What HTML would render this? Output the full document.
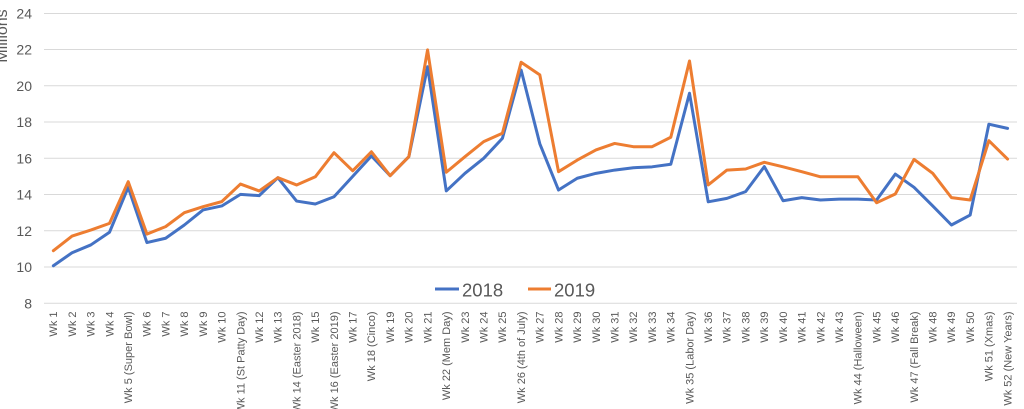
<!DOCTYPE html>
<html><head><meta charset="utf-8"><style>
html,body{margin:0;padding:0;background:#fff;}
svg{display:block;}
text{font-family:"Liberation Sans",Arial,sans-serif;fill:#595959;}
</style></head><body>
<svg width="1024" height="409" viewBox="0 0 1024 409" xmlns="http://www.w3.org/2000/svg">
<rect width="1024" height="409" fill="#fff"/>
<g stroke="#d9d9d9" stroke-width="1">
<line x1="44" x2="1017" y1="13.5" y2="13.5"/>
<line x1="44" x2="1017" y1="49.5" y2="49.5"/>
<line x1="44" x2="1017" y1="85.8" y2="85.8"/>
<line x1="44" x2="1017" y1="122" y2="122"/>
<line x1="44" x2="1017" y1="158.3" y2="158.3"/>
<line x1="44" x2="1017" y1="194.5" y2="194.5"/>
<line x1="44" x2="1017" y1="230.8" y2="230.8"/>
<line x1="44" x2="1017" y1="267" y2="267"/>
<line x1="44" x2="1017" y1="303.3" y2="303.3"/>
</g>
<g font-size="14" text-anchor="end">
<text x="32" y="18.3">24</text>
<text x="32" y="54.5">22</text>
<text x="32" y="90.8">20</text>
<text x="32" y="127">18</text>
<text x="32" y="163.3">16</text>
<text x="32" y="199.5">14</text>
<text x="32" y="235.8">12</text>
<text x="32" y="272">10</text>
<text x="32" y="308.3">8</text>
</g>
<text font-size="16" text-anchor="middle" transform="translate(7,36) rotate(-90)">Millions</text>

<polyline fill="none" stroke="#4472C4" stroke-width="3" stroke-linejoin="round" stroke-linecap="round" points="53.36,265.78 72.07,252.73 90.78,244.94 109.49,232.25 128.20,187.3 146.91,242.58 165.62,238.23 184.33,225.0 203.04,209.96 221.75,205.97 240.46,194.37 259.17,195.64 277.88,177.69 296.59,201.07 315.30,203.97 334.01,196.72 352.72,176.42 371.43,155.94 390.14,175.7 408.85,156.67 427.56,66.77 446.27,190.92 464.98,173.34 483.69,158.3 502.40,138.36 521.11,70.03 539.82,143.8 558.53,190.02 577.24,178.24 595.95,173.34 614.66,170.08 633.37,167.73 652.08,166.82 670.79,164.28 689.50,93.23 708.21,201.8 726.92,198.36 745.63,191.65 764.34,166.64 783.05,200.71 801.76,197.63 820.47,199.99 839.18,199.08 857.89,199.08 876.60,199.99 895.31,174.07 914.02,187.3 932.73,205.97 951.44,225.0 970.15,215.03 988.86,124.22 1007.57,128.39"/>
<polyline fill="none" stroke="#ED7D31" stroke-width="3" stroke-linejoin="round" stroke-linecap="round" points="53.36,250.74 72.07,236.06 90.78,230.07 109.49,223.37 128.20,181.68 146.91,234.06 165.62,226.63 184.33,212.67 203.04,206.69 221.75,201.62 240.46,184.04 259.17,190.92 277.88,177.69 296.59,184.94 315.30,176.79 334.01,152.68 352.72,170.81 371.43,151.77 390.14,175.7 408.85,156.67 427.56,49.91 446.27,172.26 464.98,156.67 483.69,141.62 502.40,133.29 521.11,62.24 539.82,74.92 558.53,171.71 577.24,160.11 595.95,149.96 614.66,143.44 633.37,146.7 652.08,146.7 670.79,137.27 689.50,60.97 708.21,184.94 726.92,170.08 745.63,168.99 764.34,162.29 783.05,166.82 801.76,171.71 820.47,176.79 839.18,176.79 857.89,176.79 876.60,202.71 895.31,194.01 914.02,159.39 932.73,173.34 951.44,197.63 970.15,199.99 988.86,140.72 1007.57,159.02"/>

<line x1="435" x2="459" y1="289" y2="289" stroke="#4472C4" stroke-width="3"/>
<text x="462" y="296.7" font-size="18.5">2018</text>
<line x1="528" x2="551" y1="289" y2="289" stroke="#ED7D31" stroke-width="3"/>
<text x="554" y="296.7" font-size="18.5">2019</text>

<g font-size="11" text-anchor="end">
<text transform="translate(57.2,311.5) rotate(-90)">Wk 1</text>
<text transform="translate(75.9,311.5) rotate(-90)">Wk 2</text>
<text transform="translate(94.6,311.5) rotate(-90)">Wk 3</text>
<text transform="translate(113.3,311.5) rotate(-90)">Wk 4</text>
<text transform="translate(132.0,311.5) rotate(-90)">Wk 5 (Super Bowl)</text>
<text transform="translate(150.7,311.5) rotate(-90)">Wk 6</text>
<text transform="translate(169.4,311.5) rotate(-90)">Wk 7</text>
<text transform="translate(188.1,311.5) rotate(-90)">Wk 8</text>
<text transform="translate(206.8,311.5) rotate(-90)">Wk 9</text>
<text transform="translate(225.6,311.5) rotate(-90)">Wk 10</text>
<text transform="translate(244.3,311.5) rotate(-90)">Wk 11 (St Patty Day)</text>
<text transform="translate(263.0,311.5) rotate(-90)">Wk 12</text>
<text transform="translate(281.7,311.5) rotate(-90)">Wk 13</text>
<text transform="translate(300.4,311.5) rotate(-90)">Wk 14 (Easter 2018)</text>
<text transform="translate(319.1,311.5) rotate(-90)">Wk 15</text>
<text transform="translate(337.8,311.5) rotate(-90)">Wk 16 (Easter 2019)</text>
<text transform="translate(356.5,311.5) rotate(-90)">Wk 17</text>
<text transform="translate(375.2,311.5) rotate(-90)">Wk 18 (Cinco)</text>
<text transform="translate(393.9,311.5) rotate(-90)">Wk 19</text>
<text transform="translate(412.7,311.5) rotate(-90)">Wk 20</text>
<text transform="translate(431.4,311.5) rotate(-90)">Wk 21</text>
<text transform="translate(450.1,311.5) rotate(-90)">Wk 22 (Mem Day)</text>
<text transform="translate(468.8,311.5) rotate(-90)">Wk 23</text>
<text transform="translate(487.5,311.5) rotate(-90)">Wk 24</text>
<text transform="translate(506.2,311.5) rotate(-90)">Wk 25</text>
<text transform="translate(524.9,311.5) rotate(-90)">Wk 26 (4th of July)</text>
<text transform="translate(543.6,311.5) rotate(-90)">Wk 27</text>
<text transform="translate(562.3,311.5) rotate(-90)">Wk 28</text>
<text transform="translate(581.0,311.5) rotate(-90)">Wk 29</text>
<text transform="translate(599.8,311.5) rotate(-90)">Wk 30</text>
<text transform="translate(618.5,311.5) rotate(-90)">Wk 31</text>
<text transform="translate(637.2,311.5) rotate(-90)">Wk 32</text>
<text transform="translate(655.9,311.5) rotate(-90)">Wk 33</text>
<text transform="translate(674.6,311.5) rotate(-90)">Wk 34</text>
<text transform="translate(693.3,311.5) rotate(-90)">Wk 35 (Labor Day)</text>
<text transform="translate(712.0,311.5) rotate(-90)">Wk 36</text>
<text transform="translate(730.7,311.5) rotate(-90)">Wk 37</text>
<text transform="translate(749.4,311.5) rotate(-90)">Wk 38</text>
<text transform="translate(768.1,311.5) rotate(-90)">Wk 39</text>
<text transform="translate(786.9,311.5) rotate(-90)">Wk 40</text>
<text transform="translate(805.6,311.5) rotate(-90)">Wk 41</text>
<text transform="translate(824.3,311.5) rotate(-90)">Wk 42</text>
<text transform="translate(843.0,311.5) rotate(-90)">Wk 43</text>
<text transform="translate(861.7,311.5) rotate(-90)">Wk 44 (Halloween)</text>
<text transform="translate(880.4,311.5) rotate(-90)">Wk 45</text>
<text transform="translate(899.1,311.5) rotate(-90)">Wk 46</text>
<text transform="translate(917.8,311.5) rotate(-90)">Wk 47 (Fall Break)</text>
<text transform="translate(936.5,311.5) rotate(-90)">Wk 48</text>
<text transform="translate(955.2,311.5) rotate(-90)">Wk 49</text>
<text transform="translate(974.0,311.5) rotate(-90)">Wk 50</text>
<text transform="translate(992.7,311.5) rotate(-90)">Wk 51 (Xmas)</text>
<text transform="translate(1011.4,311.5) rotate(-90)">Wk 52 (New Years)</text>
</g>
</svg>
</body></html>
